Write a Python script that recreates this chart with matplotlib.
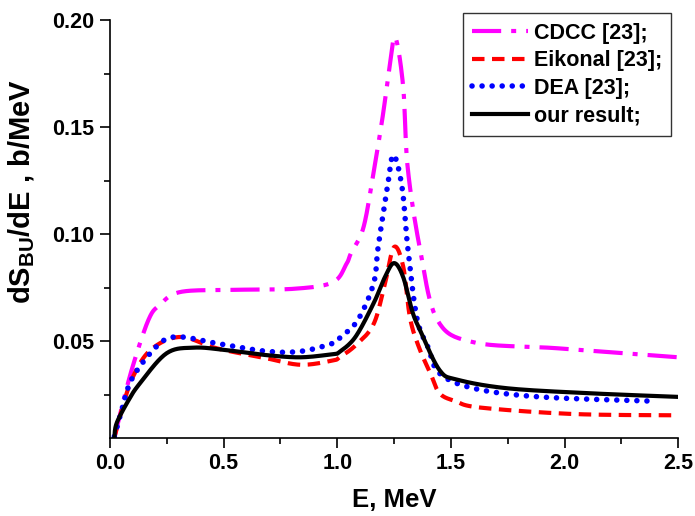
import numpy as np
import matplotlib
matplotlib.use("Agg")
import matplotlib.pyplot as plt

plt.rcParams['font.family'] = ['Liberation Sans', 'DejaVu Sans']
plt.rcParams['font.weight'] = 'bold'
plt.rcParams['mathtext.fontset'] = 'custom'
plt.rcParams['mathtext.rm'] = 'Liberation Sans:bold'
plt.rcParams['mathtext.bf'] = 'Liberation Sans:bold'

# data
e_cdcc = [0.02, 0.05, 0.10, 0.17, 0.22, 0.31, 0.54, 0.81, 0.98, 1.04, 1.06, 1.115, 1.16, 1.20, 1.23, 1.255,
          1.29, 1.31, 1.365, 1.44, 1.6, 1.97, 2.5]
s_cdcc = [0.005, 0.018, 0.038, 0.060, 0.067, 0.073, 0.074, 0.0745, 0.0775, 0.086, 0.091, 0.103, 0.129, 0.155, 0.178, 0.192,
          0.169, 0.131, 0.0925, 0.060, 0.0495, 0.0467, 0.0425]

e_eik = [0.02, 0.05, 0.10, 0.18, 0.31, 0.47, 0.69, 0.84, 0.98, 1.01, 1.08, 1.16, 1.21, 1.25, 1.29, 1.32, 1.36, 1.41,
         1.45, 1.52, 1.63, 2.04, 2.5]
s_eik = [0.005, 0.017, 0.033, 0.046, 0.052, 0.0467, 0.042, 0.039, 0.041, 0.0425, 0.048, 0.058, 0.077, 0.094, 0.085, 0.061,
         0.047, 0.035, 0.0257, 0.022, 0.019, 0.016, 0.0154]

e_dea = [0.02, 0.05, 0.10, 0.22, 0.31, 0.47, 0.69, 0.84, 0.98, 1.01, 1.09, 1.16, 1.18, 1.22, 1.247, 1.285, 1.31, 1.35,
         1.40, 1.45, 1.6, 1.89, 2.39]
s_dea = [0.0055, 0.017, 0.033, 0.049, 0.052, 0.049, 0.0453, 0.0453, 0.049, 0.0514, 0.0598, 0.077, 0.094, 0.1215, 0.137,
         0.122, 0.094, 0.061, 0.047, 0.035, 0.028, 0.024, 0.022]

e_our = [0.02, 0.03, 0.08, 0.13, 0.25, 0.37, 0.5, 0.69, 0.84, 0.98, 1.01, 1.08, 1.16, 1.21, 1.25, 1.29, 1.33, 1.365,
         1.45, 1.53, 1.75, 2.11, 2.5]
s_our = [0.005, 0.0117, 0.022, 0.030, 0.0444, 0.047, 0.046, 0.0435, 0.0425, 0.044, 0.045, 0.052, 0.0677, 0.080, 0.0865,
         0.080, 0.064, 0.055, 0.0365, 0.032, 0.028, 0.0257, 0.024]


def smooth(x, y):
    # Catmull-Rom curve through the read points
    x = np.asarray(x, float)
    y = np.asarray(y, float)
    xs, ys = [], []
    for i in range(len(x) - 1):
        p0 = i - 1 if i > 0 else i
        p3 = i + 2 if i + 2 < len(x) else i + 1
        t = np.linspace(0, 1, 20, endpoint=False)
        for arr, out in ((x, xs), (y, ys)):
            P0, P1, P2, P3 = arr[p0], arr[i], arr[i + 1], arr[p3]
            out.extend(0.5 * ((2 * P1) + (-P0 + P2) * t + (2 * P0 - 5 * P1 + 4 * P2 - P3) * t ** 2
                              + (-P0 + 3 * P1 - 3 * P2 + P3) * t ** 3))
    xs.append(x[-1])
    ys.append(y[-1])
    return np.array(xs), np.array(ys)


fig = plt.figure(figsize=(6.95, 5.16), dpi=100)
ax = fig.add_axes([0.158, 0.152, 0.818, 0.809])

ax.plot(*smooth(e_cdcc, s_cdcc), color='#ff00ff', lw=3.0, linestyle=(0, (7, 2.4, 1.2, 2.4)), label='CDCC [23];')
ax.plot(*smooth(e_eik, s_eik), color='#ff0000', lw=3.0, linestyle=(0, (3, 1.8)), label='Eikonal [23];')
ax.plot(*smooth(e_dea, s_dea), color='#0000ff', lw=4.0, linestyle=(0, (0.01, 1.8)), dash_capstyle='round',
        label='DEA [23];')
ax.plot(*smooth(e_our, s_our), color='black', lw=3.0, label='our result;')

ax.set_xlim(0, 2.5)
ax.set_ylim(0.005, 0.20)
ax.set_xticks([0.0, 0.5, 1.0, 1.5, 2.0, 2.5])
ax.set_xticks(np.arange(0.25, 2.5, 0.5), minor=True)
ax.set_yticks([0.05, 0.10, 0.15, 0.20])
ax.set_yticks([0.025, 0.075, 0.125, 0.175], minor=True)
ax.xaxis.set_major_formatter(matplotlib.ticker.FormatStrFormatter('%.1f'))
ax.yaxis.set_major_formatter(matplotlib.ticker.FormatStrFormatter('%.2f'))
ax.tick_params(which='major', direction='out', length=7, width=1.2, labelsize=15.5, pad=4)
ax.tick_params(which='minor', direction='out', length=4, width=1.2)
ax.spines['top'].set_visible(False)
ax.spines['right'].set_visible(False)
ax.spines['left'].set_linewidth(1.2)
ax.spines['bottom'].set_linewidth(1.2)
for lab in ax.get_xticklabels() + ax.get_yticklabels():
    lab.set_fontweight('bold')

ax.set_xlabel('E, MeV', fontsize=18.5, fontweight='bold', labelpad=10)
ax.set_ylabel(r'dS$_{\rm BU}$/dE , b/MeV', fontsize=21, fontweight='bold')
ax.yaxis.set_label_coords(-0.128, 0.589)

leg = ax.legend(loc='upper right', bbox_to_anchor=(0.988, 1.017), fontsize=15.5, frameon=True, fancybox=False,
                edgecolor='black', handlelength=2.6, handletextpad=0.25, borderpad=0.45, labelspacing=0.3,
                borderaxespad=0.0)
leg.get_frame().set_linewidth(1.0)
for t in leg.get_texts():
    t.set_fontweight('bold')

fig.savefig('out.png', dpi=100)
